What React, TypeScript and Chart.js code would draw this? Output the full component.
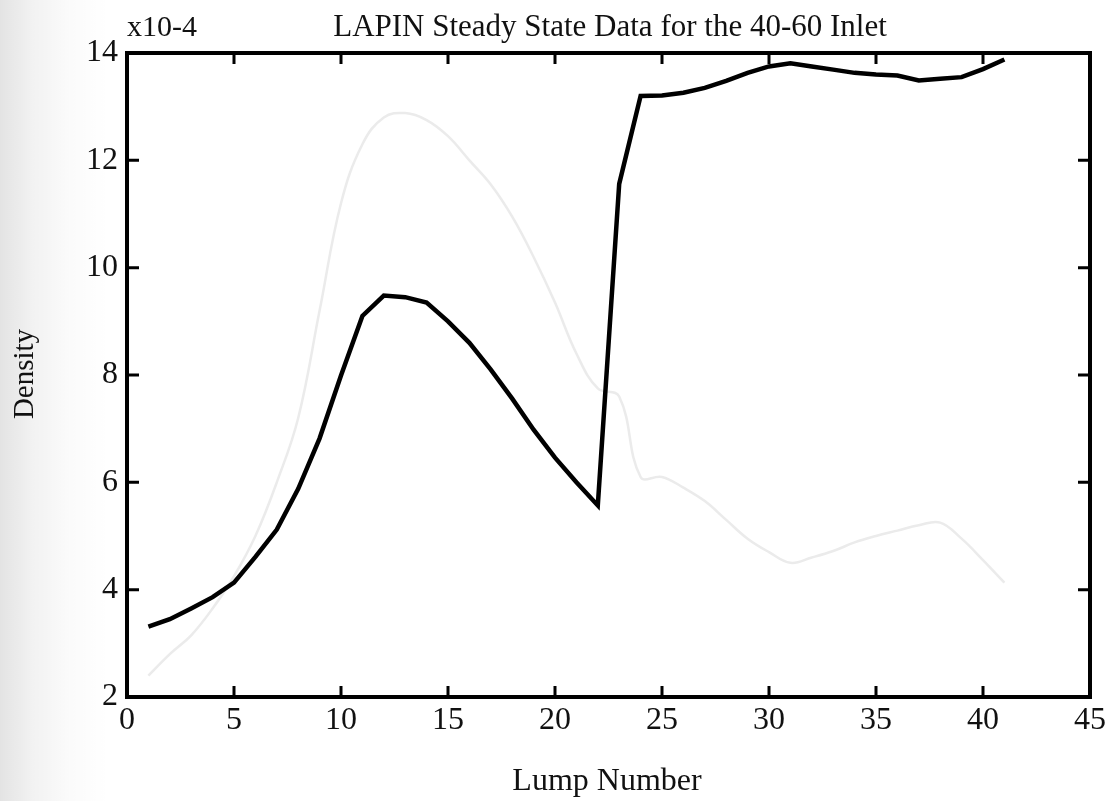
import React, { useEffect, useRef } from "react";
import { Chart, registerables } from "chart.js";

Chart.register(...registerables);

const lumps = [1, 2, 3, 4, 5, 6, 7, 8, 9, 10, 11, 12, 13, 14, 15, 16, 17, 18, 19, 20, 21, 22, 23, 24, 25, 26, 27, 28, 29, 30, 31, 32, 33, 34, 35, 36, 37, 38, 39, 40, 41];
const density = [3.31, 3.45, 3.65, 3.86, 4.13, 4.61, 5.12, 5.88, 6.82, 7.99, 9.1, 9.48, 9.45, 9.35, 9.0, 8.6, 8.1, 7.56, 6.98, 6.46, 6.0, 5.57, 11.56, 13.2, 13.21, 13.26, 13.35, 13.48, 13.63, 13.75, 13.81, 13.75, 13.69, 13.63, 13.6, 13.58, 13.49, 13.52, 13.55, 13.7, 13.88];
// faint show-through curve visible on the scanned page
const showThrough = [2.4, 2.8, 3.15, 3.65, 4.25, 5.0, 6.0, 7.2, 9.2, 11.2, 12.3, 12.8, 12.88, 12.75, 12.45, 12.0, 11.55, 10.95, 10.2, 9.35, 8.4, 7.75, 7.6, 6.1, 6.1, 5.9, 5.65, 5.3, 4.95, 4.7, 4.5, 4.6, 4.72, 4.88, 5.0, 5.1, 5.2, 5.25, 4.95, 4.55, 4.13];

const xTickValues = [0, 5, 10, 15, 20, 25, 30, 35, 40, 45];
const yTickValues = [2, 4, 6, 8, 10, 12, 14];

const titleText = "LAPIN Steady State Data for the 40-60 Inlet";
const exponentText = "x10-4";
const xAxisTitle = "Lump Number";
const yAxisTitle = "Density";

const FONT = "'Liberation Serif', 'Times New Roman', serif";

export default function App() {
  const ref = useRef<HTMLCanvasElement | null>(null);

  useEffect(() => {
    const canvas = ref.current;
    if (!canvas) return;

    const bgPlugin = {
      id: "bg",
      beforeDraw(chart: any) {
        const { ctx, width, height } = chart;
        ctx.save();
        ctx.fillStyle = "#ffffff";
        ctx.fillRect(0, 0, width, height);
        const g = ctx.createLinearGradient(0, 0, 110, 0);
        g.addColorStop(0, "rgba(0,0,0,0.11)");
        g.addColorStop(0.3, "rgba(0,0,0,0.05)");
        g.addColorStop(0.65, "rgba(0,0,0,0.015)");
        g.addColorStop(1, "rgba(0,0,0,0)");
        ctx.fillStyle = g;
        ctx.fillRect(0, 0, 110, height);
        ctx.restore();
      },
    };

    const framePlugin = {
      id: "frame",
      afterDraw(chart: any) {
        const { ctx, chartArea } = chart;
        const { left, right, top, bottom } = chartArea;
        const xs = chart.scales.x;
        const ys = chart.scales.y;
        ctx.save();
        ctx.strokeStyle = "#000";
        ctx.lineWidth = 4;
        ctx.strokeRect(left, top, right - left, bottom - top);
        ctx.lineWidth = 3;
        ctx.beginPath();
        xTickValues.slice(1, -1).forEach((v) => {
          const px = xs.getPixelForValue(v);
          ctx.moveTo(px, bottom);
          ctx.lineTo(px, bottom - 11);
          ctx.moveTo(px, top);
          ctx.lineTo(px, top + 11);
        });
        yTickValues.slice(1, -1).forEach((v) => {
          const py = ys.getPixelForValue(v);
          ctx.moveTo(left, py);
          ctx.lineTo(left + 12, py);
          ctx.moveTo(right, py);
          ctx.lineTo(right - 12, py);
        });
        ctx.stroke();

        ctx.fillStyle = "#111";
        ctx.textBaseline = "alphabetic";
        ctx.font = `31px ${FONT}`;
        ctx.textAlign = "center";
        ctx.fillText(titleText, 610, 36);
        ctx.textAlign = "left";
        ctx.font = `30px ${FONT}`;
        ctx.fillText(exponentText, 127, 36);
        ctx.textAlign = "center";
        ctx.font = `32px ${FONT}`;
        ctx.fillText(xAxisTitle, 607, 790);
        ctx.save();
        ctx.translate(33, 374);
        ctx.rotate(-Math.PI / 2);
        ctx.font = `29px ${FONT}`;
        ctx.fillText(yAxisTitle, 0, 0);
        ctx.restore();
        ctx.restore();
      },
    };

    const chart = new Chart(canvas, {
      type: "line",
      data: {
        datasets: [
          {
            label: "Density",
            data: lumps.map((x, i) => ({ x, y: density[i] })),
            borderColor: "#000",
            borderWidth: 4.5,
            pointRadius: 0,
            tension: 0,
            fill: false,
          },
          {
            label: "show-through",
            data: lumps.map((x, i) => ({ x, y: showThrough[i] })),
            borderColor: "#ebebeb",
            borderWidth: 2.5,
            pointRadius: 0,
            tension: 0.4,
            fill: false,
          },
        ],
      },
      options: {
        responsive: false,
        animation: false,
        devicePixelRatio: 1,
        layout: { padding: { top: 53, right: 25, left: 0, bottom: 0 } },
        plugins: {
          legend: { display: false },
          title: { display: false },
          tooltip: { enabled: false },
        },
        scales: {
          x: {
            type: "linear",
            min: 0,
            max: 45,
            afterBuildTicks: (s: any) => {
              s.ticks = xTickValues.map((v) => ({ value: v }));
            },
            afterFit: (s: any) => {
              s.height = 104;
            },
            ticks: {
              font: { family: FONT, size: 32 },
              color: "#111",
              padding: 4,
              maxRotation: 0,
              autoSkip: false,
            },
            grid: { display: false, drawTicks: false, tickLength: 0 },
            border: { display: false },
          },
          y: {
            type: "linear",
            min: 2,
            max: 14,
            afterBuildTicks: (s: any) => {
              s.ticks = yTickValues.map((v) => ({ value: v }));
            },
            afterFit: (s: any) => {
              s.width = 127;
            },
            ticks: {
              font: { family: FONT, size: 32 },
              color: "#111",
              padding: 9,
              autoSkip: false,
            },
            grid: { display: false, drawTicks: false, tickLength: 0 },
            border: { display: false },
          },
        },
      },
      plugins: [bgPlugin, framePlugin],
    });

    return () => chart.destroy();
  }, []);

  return (
    <div style={{ position: "fixed", left: 0, top: 0, width: 1115, height: 801, background: "#fff" }}>
      <canvas ref={ref} width={1115} height={801} style={{ display: "block" }} />
    </div>
  );
}
